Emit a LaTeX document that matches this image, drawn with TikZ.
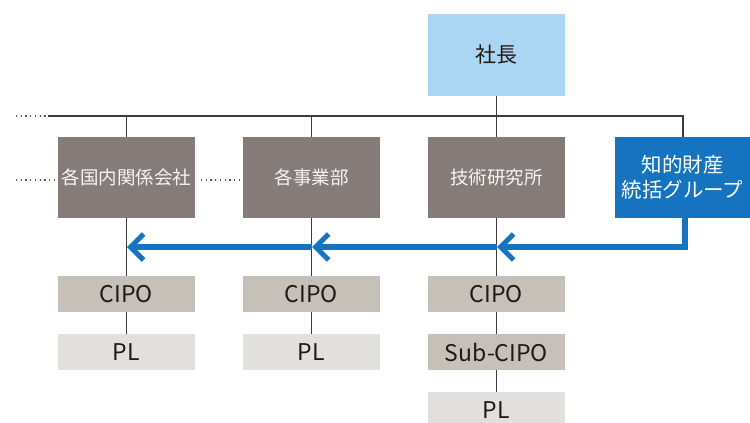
\documentclass[tikz,border=0pt]{standalone}
\usepackage{fontspec}
\setmainfont{Noto Sans CJK JP}
\usetikzlibrary{arrows.meta}
\definecolor{topblue}{HTML}{ABD6F3}
\definecolor{darkgray}{HTML}{857B78}
\definecolor{cipogray}{HTML}{C5C1B9}
\definecolor{plgray}{HTML}{E1E0DF}
\definecolor{ipblue}{HTML}{1673C0}
\definecolor{linec}{HTML}{3E3A39}
\definecolor{dotc}{HTML}{595757}
\definecolor{textdark}{HTML}{231815}
\begin{document}
\begin{tikzpicture}[x=1pt,y=-1pt,
  base/.style={inner sep=0pt, outer sep=0pt, anchor=center},
  topbox/.style={base, fill=topblue, minimum width=137pt, minimum height=82pt, text=textdark, font=\fontsize{21}{24}\selectfont},
  unitbox/.style={base, fill=darkgray, minimum width=137pt, minimum height=81pt, text=white!92!darkgray, font=\fontsize{18.5}{22}\selectfont},
  ipbox/.style={base, fill=ipblue, minimum width=135pt, minimum height=81pt, text=white, align=center, font=\fontsize{20.5}{25}\selectfont},
  cipobox/.style={base, fill=cipogray, minimum width=137pt, minimum height=36pt, text=textdark, font=\fontsize{23}{26}\selectfont},
  plbox/.style={base, fill=plgray, minimum width=137pt, minimum height=36pt, text=textdark, font=\fontsize{23}{26}\selectfont},
  conn/.style={draw=linec, line width=1.3pt},
  dots/.style={draw=dotc, line width=1.2pt, dash pattern=on 1.3pt off 3.4pt},
  iparrow/.style={draw=ipblue, line width=5.5pt, -{Straight Barb[length=13pt, width=26pt, line width=5pt]}}
]
\useasboundingbox (0,0) rectangle (750,423);

% nodes
\node[topbox] (ceo) at (496.5,55) {社長};
\node[unitbox] (u1) at (126.5,177.5) {各国内関係会社};
\node[unitbox] (u2) at (311.5,177.5) {各事業部};
\node[unitbox] (u3) at (496.5,177.5) {技術研究所};
\node[ipbox] (ip) at (682.5,177.5) {知的財産\\統括グループ};
\node[cipobox] (c1) at (126.5,294) {CIPO};
\node[cipobox] (c2) at (311.5,294) {CIPO};
\node[cipobox] (c3) at (496.5,294) {CIPO};
\node[plbox] (p1) at (126.5,352) {PL};
\node[plbox] (p2) at (311.5,352) {PL};
\node[cipobox] (s3) at (496.5,352) {Sub-CIPO};
\node[plbox] (p3) at (496.5,410) {PL};

% coordinates of the bus
\coordinate (busL) at (48,116);
\coordinate (busLd) at (16,116);
\coordinate (busR) at (683,116);
\coordinate (dl1) at (16,180);
\coordinate (dl2) at (54,180);
\coordinate (dm1) at (201,180);
\coordinate (dm2) at (239,180);

% connectors
\draw[conn] (busL) -- (busR) -- (busR |- ip.north);
\draw[dots] (busLd) -- (busL);
\draw[dots] (dl1) -- (dl2);
\draw[dots] (dm1) -- (dm2);
\draw[conn] (ceo.south) -- (ceo.south |- busL);
\draw[conn] (u1.north |- busL) -- (u1.north);
\draw[conn] (u2.north |- busL) -- (u2.north);
\draw[conn] (u3.north |- busL) -- (u3.north);
\draw[conn] (u1.south) -- (c1.north);
\draw[conn] (u2.south) -- (c2.north);
\draw[conn] (u3.south) -- (c3.north);
\draw[conn] (c1.south) -- (p1.north);
\draw[conn] (c2.south) -- (p2.north);
\draw[conn] (c3.south) -- (s3.north);
\draw[conn] (s3.south) -- (p3.north);

% blue arrows
\coordinate (ipdown) at (685,218);
\coordinate (ipcorner) at (685,247);
\coordinate (a3) at (497,247);
\coordinate (a2) at (312,247);
\coordinate (a1) at (127,247);
\draw[iparrow] (ipdown) -- (ipcorner) -- (a3);
\draw[iparrow] (a3) -- (a2);
\draw[iparrow] (a2) -- (a1);
\end{tikzpicture}
\end{document}
